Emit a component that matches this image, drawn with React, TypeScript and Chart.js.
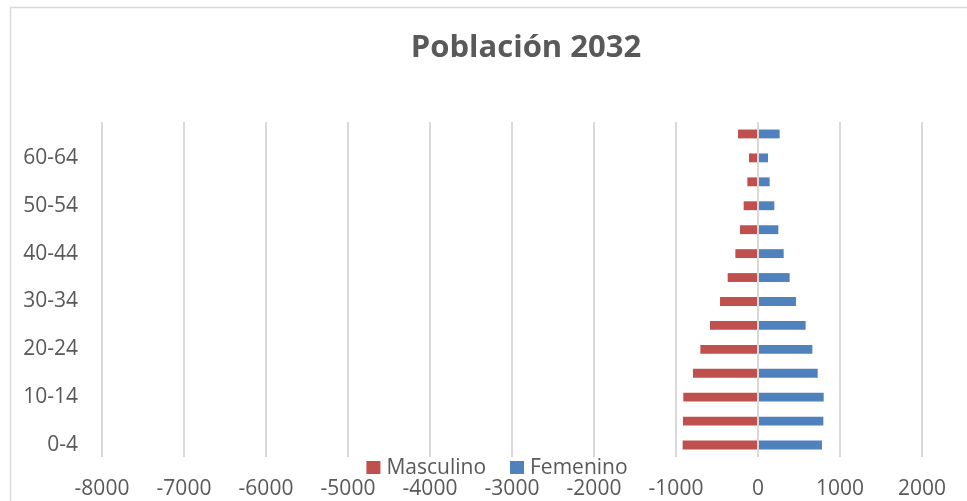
import React, { useEffect, useRef } from "react";
import { Chart, registerables } from "chart.js";

Chart.register(...registerables);

const ageGroups = [
  "0-4", "5-9", "10-14", "15-19", "20-24", "25-29", "30-34",
  "35-39", "40-44", "45-49", "50-54", "55-59", "60-64", "65 y más",
];
const masculino = [-919, -915, -911, -793, -703, -585, -463, -370, -276, -220, -175, -130, -110, -244];
const femenino = [780, 797, 801, 728, 663, 581, 463, 386, 313, 248, 199, 142, 122, 264];
const titleText = "Población 2032";
const xMin = -8000;
const xMax = 2000;
const xStep = 1000;

const RED = "#C0504D";
const BLUE = "#4F81BD";
const TEXT = "#595959";
const GRID = "#d9d9d9";
const FONT = '"Open Sans", "Noto Sans", sans-serif';

const framePlugin = {
  id: "frame",
  beforeDraw(chart: any) {
    const ctx = chart.ctx;
    ctx.save();
    ctx.strokeStyle = GRID;
    ctx.lineWidth = 1.5;
    ctx.beginPath();
    ctx.moveTo(10.5, chart.height);
    ctx.lineTo(10.5, 7.5);
    ctx.lineTo(chart.width, 7.5);
    ctx.stroke();
    ctx.restore();
  },
  afterDraw(chart: any) {
    const ctx = chart.ctx;
    const area = chart.chartArea;
    const cx = (area.left + area.right) / 2;
    ctx.save();
    // title
    ctx.fillStyle = TEXT;
    ctx.font = `bold 31px ${FONT}`;
    ctx.textAlign = "center";
    ctx.textBaseline = "middle";
    ctx.fillText(titleText, cx + 14, 48);
    // legend
    ctx.font = `21px ${FONT}`;
    ctx.textAlign = "left";
    const box = 14;
    const gapText = 6;
    const gapItem = 24;
    const items = chart.data.datasets.map((d: any) => ({
      label: d.label,
      color: d.backgroundColor,
      w: ctx.measureText(d.label).width,
    }));
    const total = items.reduce((s: number, it: any) => s + box + gapText + it.w, 0) + gapItem * (items.length - 1);
    let x = cx - 15 - total / 2;
    const y = 468;
    items.forEach((it: any) => {
      ctx.fillStyle = it.color;
      ctx.fillRect(x, y - box / 2, box, box - 1);
      x += box + gapText;
      ctx.fillStyle = TEXT;
      ctx.fillText(it.label, x, y);
      x += it.w + gapItem;
    });
    ctx.restore();
  },
};

export default function App() {
  const ref = useRef<HTMLCanvasElement>(null);

  useEffect(() => {
    if (!ref.current) return;
    const chart = new Chart(ref.current, {
      type: "bar",
      data: {
        labels: ageGroups,
        datasets: [
          { label: "Masculino", data: masculino, backgroundColor: RED, borderWidth: 0 },
          { label: "Femenino", data: femenino, backgroundColor: BLUE, borderWidth: 0 },
        ],
      },
      plugins: [framePlugin],
      options: {
        indexAxis: "y",
        responsive: false,
        animation: false,
        devicePixelRatio: 1,
        layout: { padding: { top: 122, right: 45, left: 0, bottom: 0 } },
        datasets: { bar: { barPercentage: 0.37, categoryPercentage: 1 } },
        plugins: {
          legend: { display: false },
          title: { display: false },
          tooltip: { enabled: false },
        },
        scales: {
          x: {
            stacked: true,
            min: xMin,
            max: xMax,
            ticks: {
              stepSize: xStep,
              color: TEXT,
              font: { family: FONT, size: 21 },
              padding: 19,
              maxRotation: 0,
              callback: (v: any) => String(v),
            },
            grid: { color: GRID, lineWidth: 2, drawTicks: false },
            border: { display: false },
            afterFit: (s: any) => { s.height = 44; },
          },
          y: {
            stacked: true,
            reverse: true,
            ticks: {
              autoSkip: false,
              color: TEXT,
              font: { family: FONT, size: 21 },
              padding: 24,
              callback: function (this: any, v: any, i: number) {
                return i % 2 === 0 ? this.getLabelForValue(v) : "";
              },
            },
            grid: { display: false, drawTicks: false },
            border: { display: false },
            afterFit: (s: any) => { s.width = 102; },
          },
        },
      },
    });
    return () => chart.destroy();
  }, []);

  return (
    <div style={{ position: "absolute", left: 0, top: 0, width: 967, height: 501 }}>
      <canvas ref={ref} width={967} height={501} style={{ display: "block" }} />
    </div>
  );
}
